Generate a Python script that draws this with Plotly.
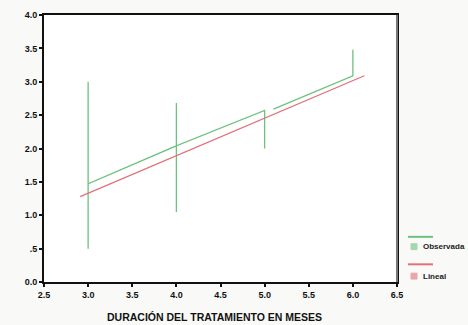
import plotly.graph_objects as go

# Observed series (SPSS-style connected observations, sorted by x)
obs_x = [3.0, 3.0, 3.0, 4.0, 4.0, 4.0, 4.0, 5.0, 5.0, None, 5.1, 6.0, 6.0]
obs_y = [0.5, 3.0, 1.47, 2.04, 1.05, 2.68, 2.04, 2.57, 2.0, None, 2.59, 3.09, 3.48]

# Linear fit line
fit_x = [2.91, 6.13]
fit_y = [1.28, 3.09]

x_ticks = [2.5, 3.0, 3.5, 4.0, 4.5, 5.0, 5.5, 6.0, 6.5]
x_labels = ["2.5", "3.0", "3.5", "4.0", "4.5", "5.0", "5.5", "6.0", "6.5"]
y_ticks = [0.0, 0.5, 1.0, 1.5, 2.0, 2.5, 3.0, 3.5, 4.0]
y_labels = ["0.0", ".5", "1.0", "1.5", "2.0", "2.5", "3.0", "3.5", "4.0"]

legend_names = ["Observada", "Lineal"]
GREEN = "#6cc27e"
RED = "#e07079"

fig = go.Figure()
fig.add_trace(go.Scatter(x=obs_x, y=obs_y, mode="lines",
                         line=dict(color=GREEN, width=1.3),
                         name=legend_names[0], showlegend=False))
fig.add_trace(go.Scatter(x=fit_x, y=fit_y, mode="lines",
                         line=dict(color=RED, width=1.3),
                         name=legend_names[1], showlegend=False))

W, H = 468, 325
L, R, T, B = 44, 71, 10, 43
fig.update_layout(
    width=W, height=H,
    margin=dict(l=L, r=R, t=T, b=B),
    paper_bgcolor="#f9f9f7",
    plot_bgcolor="#ffffff",
    font=dict(family="Liberation Sans, Arial", color="#111111"),
)
fig.update_xaxes(range=[2.5, 6.5], tickvals=x_ticks, ticktext=x_labels,
                 showgrid=False, zeroline=False,
                 showline=True, linecolor="#111111", linewidth=2, mirror=True,
                 ticks="outside", ticklen=3, tickwidth=2, tickcolor="#111111",
                 tickfont=dict(size=9, weight="bold"))
fig.update_yaxes(range=[0, 4], tickvals=y_ticks, ticktext=y_labels,
                 showgrid=False, zeroline=False,
                 showline=True, linecolor="#111111", linewidth=2, mirror=True,
                 ticks="outside", ticklen=3, tickwidth=2, tickcolor="#111111",
                 tickfont=dict(size=9, weight="bold"))

# right border in grey like the reference
fig.add_shape(type="line", xref="paper", yref="paper", x0=1, x1=1, y0=0, y1=1,
              line=dict(color="#777777", width=2))

# x-axis title
fig.add_annotation(text="DURACIÓN DEL TRATAMIENTO EN MESES",
                   xref="paper", yref="paper", x=0.482, y=0, yshift=-35,
                   showarrow=False, xanchor="center", yanchor="middle",
                   font=dict(size=10.5, weight="bold", color="#111111"))

# Manual legend (outside right of plot)
pw = W - L - R
ph = H - T - B
def px_to_paper(px, py):
    return (px - L) / pw, (H - B - py) / ph

legend_items = [(legend_names[0], GREEN, 236, 246), (legend_names[1], RED, 264, 276)]
for name, col, ly, my in legend_items:
    x0, y0 = px_to_paper(408, ly)
    x1, _ = px_to_paper(433, ly)
    fig.add_shape(type="line", xref="paper", yref="paper", x0=x0, x1=x1, y0=y0, y1=y0,
                  line=dict(color=col, width=2))
    mx0, my0 = px_to_paper(411, my + 3)
    mx1, my1 = px_to_paper(417, my - 3)
    fig.add_shape(type="rect", xref="paper", yref="paper", x0=mx0, x1=mx1, y0=my0, y1=my1,
                  line=dict(color=col, width=1), fillcolor=col, opacity=0.6)
    tx, ty = px_to_paper(421, my)
    fig.add_annotation(text=name, xref="paper", yref="paper", x=tx, y=ty,
                       showarrow=False, xanchor="left", yanchor="middle",
                       font=dict(size=8, weight="bold", color="#222222"))

fig.write_html("out.html")
